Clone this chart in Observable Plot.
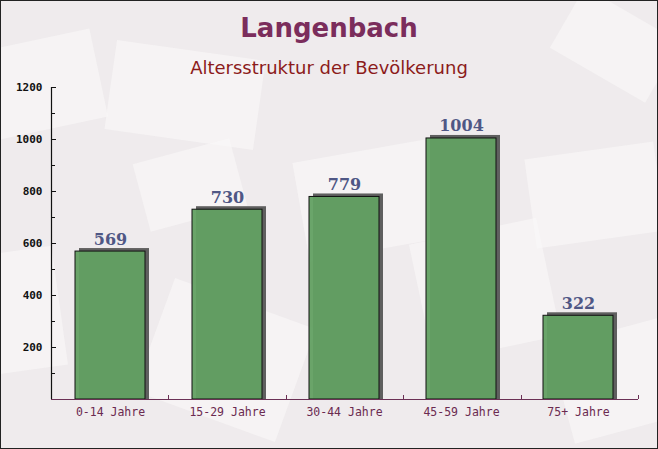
<!DOCTYPE html>
<html><head><meta charset="utf-8">
<script src="https://cdn.jsdelivr.net/npm/d3@7"></script>
<script src="https://cdn.jsdelivr.net/npm/@observablehq/plot@0.6"></script>
<style>
body{margin:0;}
#wrap{position:relative;width:658px;height:449px;background:#efebed;overflow:hidden;}
.env{position:absolute;background:#faf8f8;opacity:0.6;}
#frame{position:absolute;left:0;top:0;width:658px;height:449px;box-sizing:border-box;border:1px solid #222;pointer-events:none;}
#head{position:relative;height:80px;}
#title{position:absolute;top:13px;left:0;width:100%;text-align:center;font:bold 26px "DejaVu Sans";color:#7b2d5c;}
#sub{position:absolute;top:57px;left:0;width:100%;text-align:center;font:18px "DejaVu Sans";color:#8c1b1b;}
#chart{position:relative;}
</style></head>
<body>
<div id="wrap">
  <div class="env" style="left:-20px;top:40px;width:120px;height:90px;transform:rotate(-12deg)"></div>
  <div class="env" style="left:110px;top:50px;width:150px;height:90px;transform:rotate(8deg)"></div>
  <div class="env" style="left:300px;top:150px;width:140px;height:100px;transform:rotate(-10deg)"></div>
  <div class="env" style="left:530px;top:150px;width:130px;height:90px;transform:rotate(-8deg)"></div>
  <div class="env" style="left:420px;top:230px;width:130px;height:120px;transform:rotate(-12deg)"></div>
  <div class="env" style="left:150px;top:300px;width:150px;height:120px;transform:rotate(20deg)"></div>
  <div class="env" style="left:560px;top:330px;width:120px;height:100px;transform:rotate(-15deg)"></div>
  <div class="env" style="left:-10px;top:250px;width:70px;height:120px;transform:rotate(-8deg)"></div>
  <div class="env" style="left:140px;top:150px;width:100px;height:70px;transform:rotate(-15deg)"></div>
  <div class="env" style="left:560px;top:10px;width:110px;height:70px;transform:rotate(30deg)"></div>
  <div id="head">
    <div id="title">Langenbach</div>
    <div id="sub">Altersstruktur der Bevölkerung</div>
  </div>
  <div id="chart"></div>
  <div id="frame"></div>
</div>
<script>
const categories = ["0-14 Jahre", "15-29 Jahre", "30-44 Jahre", "45-59 Jahre", "75+ Jahre"];
const values = [569, 730, 779, 1004, 322];
const yTicks = [200, 400, 600, 800, 1000, 1200];
const yMinorTicks = [100, 300, 500, 700, 900, 1100];

const data = categories.map((c, i) => ({cat: c, v: values[i]}));

function axisLines(index, scales, vals, dim) {
  const g = d3.create("svg:g");
  const x0 = dim.marginLeft, x1 = dim.width - dim.marginRight;
  const yb = dim.height - dim.marginBottom, yt = dim.marginTop;
  const n = categories.length, step = (x1 - x0) / n;
  g.append("line").attr("x1", x0).attr("x2", x1).attr("y1", yb + 0.5).attr("y2", yb + 0.5)
    .attr("stroke", "#6b3055").attr("stroke-width", 1.2);
  for (let i = 1; i <= n; i++) {
    const x = Math.round(x0 + i * step) + 0.5;
    g.append("line").attr("x1", x).attr("x2", x).attr("y1", yb).attr("y2", yb - 4)
      .attr("stroke", "#6b3055");
  }
  g.append("line").attr("x1", x0 + 0.5).attr("x2", x0 + 0.5).attr("y1", yt).attr("y2", yb)
    .attr("stroke", "#111").attr("stroke-width", 1.2);
  for (const t of yTicks) {
    const y = Math.round(scales.y(t)) + 0.5;
    g.append("line").attr("x1", x0).attr("x2", x0 + 5).attr("y1", y).attr("y2", y).attr("stroke", "#111");
  }
  for (const t of yMinorTicks) {
    const y = Math.round(scales.y(t)) + 0.5;
    g.append("line").attr("x1", x0).attr("x2", x0 + 4).attr("y1", y).attr("y2", y).attr("stroke", "#111");
  }
  return g.node();
}

const plot = Plot.plot({
  width: 658,
  height: 369,
  marginTop: 7,
  marginBottom: 50,
  marginLeft: 51,
  marginRight: 20,
  style: {background: "transparent", overflow: "visible"},
  x: {domain: categories, paddingInner: 0.4, paddingOuter: 0.2, label: null, axis: null},
  y: {domain: [0, 1200], label: null, axis: null},
  marks: [
    Plot.barY(data, {x: "cat", y: "v", fill: "#5f5f5f", dx: 4, dy: -3, insetBottom: -3}),
    Plot.barY(data, {x: "cat", y: "v", fill: "#62a062", fillOpacity: 0.95, stroke: "#111", strokeWidth: 1}),
    Plot.text(data, {x: "cat", y: "v", text: d => String(d.v), dy: -7, lineAnchor: "bottom",
      fontFamily: "DejaVu Serif", fontWeight: "bold", fontSize: 16, fill: "#4f5785"}),
    Plot.axisY({ticks: yTicks, tickFormat: d => String(d), tickSize: 0, tickPadding: 9, fontFamily: "DejaVu Sans Mono",
      fontWeight: "bold", fontSize: 11, fill: "#111", label: null}),
    Plot.axisX({tickSize: 0, tickPadding: 8, fontFamily: "DejaVu Sans Mono", fontSize: 11.5,
      fill: "#6b2a50", label: null}),
    axisLines
  ]
});
document.getElementById("chart").appendChild(plot);
</script>
</body></html>
